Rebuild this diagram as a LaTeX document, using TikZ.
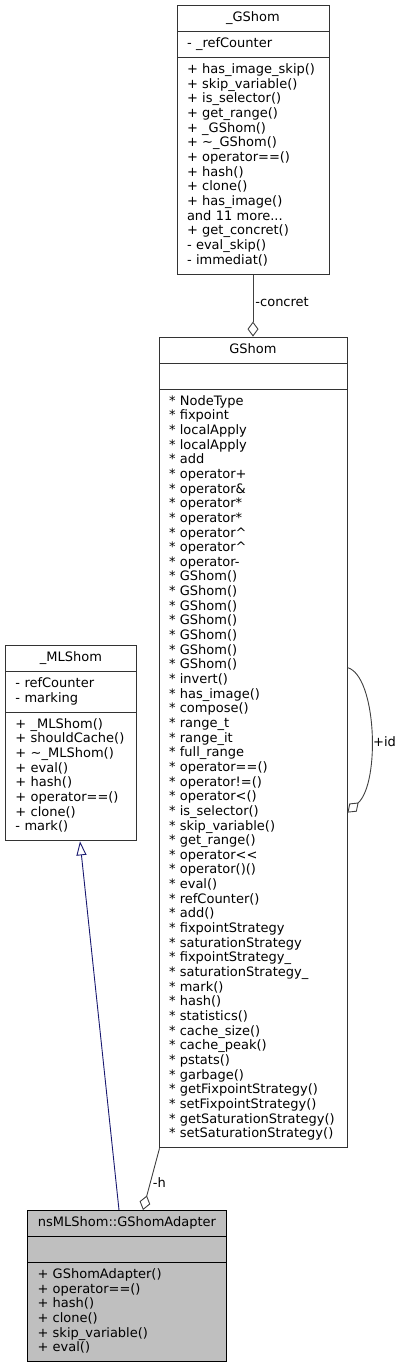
\documentclass[tikz,border=0pt]{standalone}
\usepackage{fontspec}
\setmainfont{DejaVu Sans}
\usepackage{tikz}
\usetikzlibrary{shapes.multipart, arrows.meta, calc, positioning}
\definecolor{boxline}{HTML}{333333}
\definecolor{edgegray}{HTML}{404040}
\definecolor{edgeblue}{HTML}{191970}
\definecolor{current}{HTML}{BFBFBF}
\newcommand{\umlsize}{\fontsize{13pt}{14.65pt}\selectfont}
\newcommand{\umltitle}[1]{\makebox[\linewidth]{#1}}
\setlength{\parindent}{0pt}
\hyphenpenalty=10000
\exhyphenpenalty=10000
\tikzstyle{umlclass} = [rectangle split, rectangle split parts=3, draw=boxline, line width=1pt, fill=white, inner xsep=10pt, inner ysep=5.2pt, align=left, font=\umlsize, execute at begin node=\strut, execute at end node={\unskip\strut}]
\tikzstyle{aggregation} = [edgegray, line width=0.9pt, -{Diamond[open, length=15pt, width=11pt]}]
\tikzstyle{inherit} = [edgeblue, line width=0.9pt, -{Triangle[open, length=14pt, width=10pt]}]
\tikzstyle{role} = [font=\umlsize, text=black, inner sep=2pt]
\begin{document}
\begin{tikzpicture}[x=1pt, y=1pt, node distance=62pt]
	\useasboundingbox (0,0) rectangle (404,-1365);
	\node (GShomImpl) [umlclass, text width=132pt, anchor=north] at (253,-5) {\umltitle{\_GShom}
		\nodepart{two} - \_refCounter
		\nodepart{three} + has\_image\_skip()\\ + skip\_variable()\\ + is\_selector()\\ + get\_range()\\ + \_GShom()\\ + \textasciitilde\_GShom()\\ + operator==()\\ + hash()\\ + clone()\\ + has\_image()\\ and 11 more...\\ + get\_concret()\\ - eval\_skip()\\ - immediat()};
	\node (GShom) [umlclass, text width=168pt, below = of GShomImpl] {\umltitle{GShom}
		\nodepart{two}
		\nodepart{three} {*} NodeType\\ {*} fixpoint\\ {*} localApply\\ {*} localApply\\ {*} add\\ {*} operator+\\ {*} operator\&\\ {*} operator*\\ {*} operator*\\ {*} operator\textasciicircum\\ {*} operator\textasciicircum\\ {*} operator-\\ {*} GShom()\\ {*} GShom()\\ {*} GShom()\\ {*} GShom()\\ {*} GShom()\\ {*} GShom()\\ {*} GShom()\\ {*} invert()\\ {*} has\_image()\\ {*} compose()\\ {*} range\_t\\ {*} range\_it\\ {*} full\_range\\ {*} operator==()\\ {*} operator!=()\\ {*} operator<()\\ {*} is\_selector()\\ {*} skip\_variable()\\ {*} get\_range()\\ {*} operator<{}<\\ {*} operator()()\\ {*} eval()\\ {*} refCounter()\\ {*} add()\\ {*} fixpointStrategy\\ {*} saturationStrategy\\ {*} fixpointStrategy\_\\ {*} saturationStrategy\_\\ {*} mark()\\ {*} hash()\\ {*} statistics()\\ {*} cache\_size()\\ {*} cache\_peak()\\ {*} pstats()\\ {*} garbage()\\ {*} getFixpointStrategy()\\ {*} setFixpointStrategy()\\ {*} getSaturationStrategy()\\ {*} setSaturationStrategy()};
	\node (MLShom) [umlclass, text width=111pt, anchor=north west] at (5,-645) {\umltitle{\_MLShom}
		\nodepart{two} - refCounter\\ - marking
		\nodepart{three} + \_MLShom()\\ + shouldCache()\\ + \textasciitilde\_MLShom()\\ + eval()\\ + hash()\\ + operator==()\\ + clone()\\ - mark()};
	\node (Adapter) [umlclass, fill=current, draw=black, text width=179pt, anchor=north west] at (27,-1210) {\umltitle{nsMLShom::GShomAdapter}
		\nodepart{two}
		\nodepart{three} + GShomAdapter()\\ + operator==()\\ + hash()\\ + clone()\\ + skip\_variable()\\ + eval()};
	\coordinate (idOut) at ($(GShom.north east)+(0,-331)$);
	\coordinate (idIn) at ($(GShom.north east)+(0,-476)$);
	\coordinate (hFrom) at ($(GShom.south west)+(1,0)$);
	\coordinate (hTo) at ($(Adapter.north west)+(116,0)$);
	\coordinate (baseFrom) at ($(Adapter.north west)+(92,0)$);
	\coordinate (baseTo) at ($(MLShom.south west)+(75,0)$);
	\draw [aggregation] (GShomImpl) -- node[role, right, pos=0.45]{-concret} (GShom);
	\draw [aggregation] (idOut) .. controls +(29,-8) and +(33,30) .. node[role, right, pos=0.55]{+id} (idIn);
	\draw [aggregation] (hFrom) -- node[role, right, pos=0.55]{-h} (hTo);
	\draw [inherit] (baseFrom) -- (baseTo);
\end{tikzpicture}
\end{document}
